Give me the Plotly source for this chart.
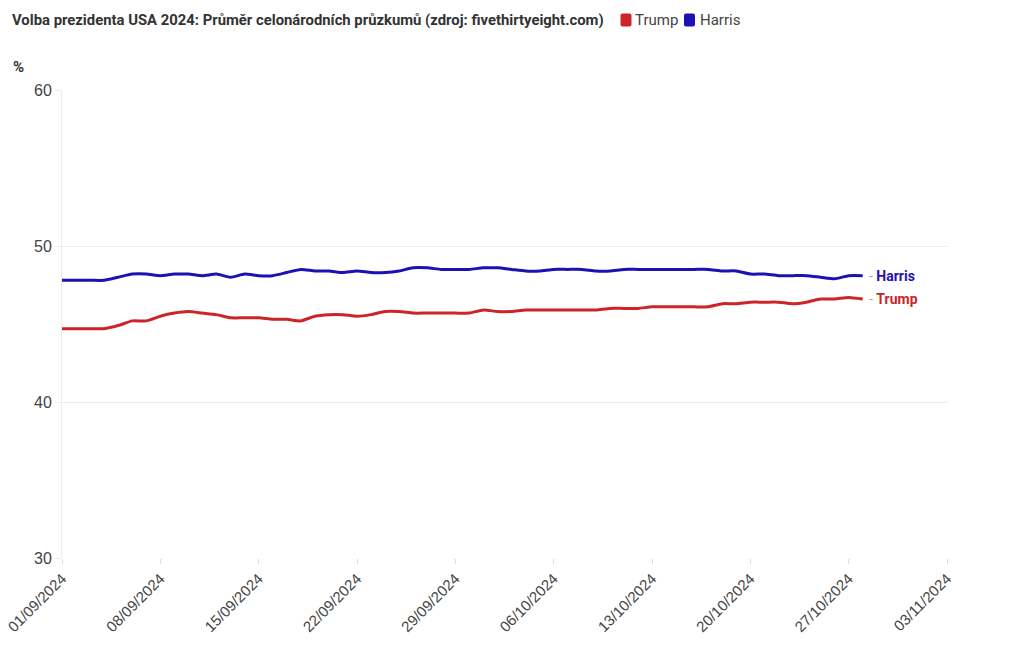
import pandas as pd
import plotly.graph_objects as go

start_date = "2024-09-01"
n_days = 58
dates = pd.date_range(start_date, periods=n_days, freq="D")

harris = [47.8, 47.8, 47.8, 47.8, 48.0, 48.2, 48.2, 48.1, 48.2, 48.2,
          48.1, 48.2, 48.0, 48.2, 48.1, 48.1, 48.3, 48.5, 48.4, 48.4,
          48.3, 48.4, 48.3, 48.3, 48.4, 48.6, 48.6, 48.5, 48.5, 48.5,
          48.6, 48.6, 48.5, 48.4, 48.4, 48.5, 48.5, 48.5, 48.4, 48.4,
          48.5, 48.5, 48.5, 48.5, 48.5, 48.5, 48.5, 48.4, 48.4, 48.2,
          48.2, 48.1, 48.1, 48.1, 48.0, 47.9, 48.1, 48.1]
trump = [44.7, 44.7, 44.7, 44.7, 44.9, 45.2, 45.2, 45.5, 45.7, 45.8,
         45.7, 45.6, 45.4, 45.4, 45.4, 45.3, 45.3, 45.2, 45.5, 45.6,
         45.6, 45.5, 45.6, 45.8, 45.8, 45.7, 45.7, 45.7, 45.7, 45.7,
         45.9, 45.8, 45.8, 45.9, 45.9, 45.9, 45.9, 45.9, 45.9, 46.0,
         46.0, 46.0, 46.1, 46.1, 46.1, 46.1, 46.1, 46.3, 46.3, 46.4,
         46.4, 46.4, 46.3, 46.4, 46.6, 46.6, 46.7, 46.6]

series_names = ["Trump", "Harris"]
series_values = [trump, harris]
colors = {"Trump": "#cc2529", "Harris": "#1e11b4"}

tick_dates = pd.date_range("2024-09-01", "2024-11-03", freq="7D")
tick_labels = [d.strftime("%d/%m/%Y") for d in tick_dates]

title_text = "Volba prezidenta USA 2024: Průměr celonárodních průzkumů (zdroj: fivethirtyeight.com)"

# layout geometry (pixels)
W, H = 1012, 642
ML, MT, PW, PH = 54, 82, 885, 468
MR, MB = W - ML - PW, H - MT - PH


def px_x(p):  # screenshot pixel -> paper x
    return (p - 8 - ML) / PW


def px_y(q):  # screenshot pixel -> paper y
    return (MT + PH - (q - 8)) / PH


fig = go.Figure()
for name, vals in zip(series_names, series_values):
    fig.add_trace(go.Scatter(
        x=dates, y=vals, mode="lines", name=name, showlegend=False,
        line=dict(color=colors[name], width=3, shape="spline", smoothing=0.6),
        hoverinfo="x+y+name"))

# end-of-line labels
for name, vals in zip(series_names, series_values):
    fig.add_annotation(
        x=dates[-1], y=vals[-1], xref="x", yref="y",
        text='<span style="color:#aaaaaa">- </span><b>%s</b>' % name,
        showarrow=False, xanchor="left", yanchor="middle", xshift=4,
        font=dict(family="Roboto, sans-serif", size=14, color=colors[name]))

# title
fig.add_annotation(
    x=px_x(10), y=px_y(20), xref="paper", yref="paper",
    text="<b>%s</b>" % title_text, showarrow=False,
    xanchor="left", yanchor="middle",
    font=dict(family="Roboto, sans-serif", size=14.85, color="#333333"))

# legend (swatches + labels)
legend_pos = {"Trump": (626, 633), "Harris": (689.5, 698)}
rr = "M -5.5 -4.5 Q -5.5 -6.5 -3.5 -6.5 L 3.5 -6.5 Q 5.5 -6.5 5.5 -4.5 L 5.5 4.5 Q 5.5 6.5 3.5 6.5 L -3.5 6.5 Q -5.5 6.5 -5.5 4.5 Z"
for name in series_names:
    cx, tx = legend_pos[name]
    fig.add_shape(type="path", path=rr, xref="paper", yref="paper",
                  xsizemode="pixel", ysizemode="pixel",
                  xanchor=px_x(cx), yanchor=px_y(20),
                  fillcolor=colors[name], line=dict(width=0))
    fig.add_annotation(
        x=px_x(tx), y=px_y(20), xref="paper", yref="paper",
        text=name, showarrow=False, xanchor="left", yanchor="middle",
        font=dict(family="Roboto, sans-serif", size=15, color="#444444"))

# unit label
fig.add_annotation(
    x=px_x(11), y=px_y(67), xref="paper", yref="paper",
    text="<b>%</b>", showarrow=False, xanchor="left", yanchor="middle",
    font=dict(family="Roboto, sans-serif", size=15, color="#333333"))

fig.update_layout(
    width=W, height=H,
    margin=dict(l=ML, r=MR, t=MT, b=MB, autoexpand=False),
    paper_bgcolor="white", plot_bgcolor="white",
    showlegend=False,
    xaxis=dict(range=[pd.Timestamp("2024-09-01"), pd.Timestamp("2024-11-03")],
               tickvals=tick_dates, ticktext=tick_labels, tickangle=-45,
               ticklabeloverflow="allow", automargin=False,
               showgrid=False, showline=False, zeroline=False,
               ticks="outside", ticklen=5, tickcolor="#dddddd",
               tickfont=dict(family="Liberation Sans, Arial, sans-serif", size=15, color="#444444")),
    yaxis=dict(range=[30, 60], tickvals=[30, 40, 50, 60], automargin=False,
               showgrid=True, gridcolor="#ececec", gridwidth=1,
               zeroline=False, showline=True, linecolor="#ececec", linewidth=1,
               ticks="outside", ticklen=6, tickcolor="#ececec",
               tickfont=dict(family="Liberation Sans, Arial, sans-serif", size=16, color="#444444")),
)

fig.write_html("out.html")
